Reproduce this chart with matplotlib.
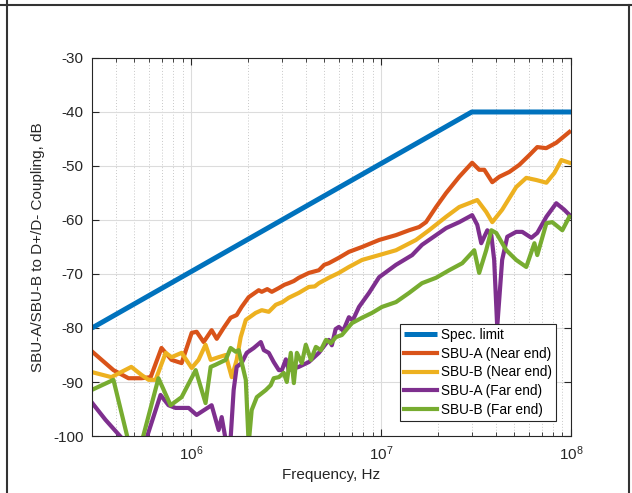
import numpy as np
import matplotlib
matplotlib.use('Agg')
import matplotlib.pyplot as plt
from matplotlib.lines import Line2D

plt.rcParams['font.family'] = ['Liberation Sans', 'DejaVu Sans']
plt.rcParams['axes.unicode_minus'] = False
plt.rcParams['mathtext.fontset'] = 'custom'
plt.rcParams['mathtext.rm'] = 'Liberation Sans'

# spec limit (Hz, dB)
spec_f = [3e5, 3e7, 1e8]
spec_db = [-80, -40, -40]

# measured curves, frequency given as log10(Hz)
a_near_logf = [5.469, 5.590, 5.669, 5.738, 5.786, 5.843, 5.896, 5.949, 6.002, 6.028,
               6.065, 6.107, 6.134, 6.170, 6.207, 6.239, 6.265, 6.302, 6.355, 6.371,
               6.400, 6.424, 6.461, 6.490, 6.513, 6.540, 6.566, 6.619, 6.672, 6.700,
               6.724, 6.777, 6.830, 6.899, 6.989, 7.078, 7.147, 7.200, 7.236, 7.289,
               7.342, 7.411, 7.479, 7.516, 7.543, 7.585, 7.622, 7.675, 7.727, 7.780,
               7.822, 7.869, 7.922, 7.991]
a_near_db = [-84.1, -87.8, -89.3, -89.3, -89.1, -83.7, -85.9, -86.5, -80.9, -80.7,
             -82.6, -80.4, -82.0, -80.0, -78.1, -77.6, -76.1, -74.3, -73.0, -73.3,
             -72.8, -73.3, -72.6, -72.0, -71.7, -71.3, -70.7, -69.8, -69.3, -68.3,
             -68.0, -67.0, -65.9, -65.0, -63.7, -62.8, -61.9, -61.3, -60.4, -57.6,
             -55.0, -52.0, -49.4, -50.7, -50.7, -53.0, -52.0, -51.1, -49.8, -48.0,
             -46.5, -46.7, -45.7, -43.7]

b_near_logf = [5.469, 5.579, 5.684, 5.738, 5.775, 5.812, 5.865, 5.896, 5.949, 6.002,
               6.038, 6.075, 6.102, 6.144, 6.181, 6.213, 6.239, 6.260, 6.287, 6.339,
               6.371, 6.408, 6.445, 6.480, 6.513, 6.566, 6.619, 6.650, 6.672, 6.724,
               6.777, 6.830, 6.899, 6.989, 7.078, 7.183, 7.252, 7.342, 7.411, 7.506,
               7.553, 7.585, 7.637, 7.711, 7.764, 7.817, 7.870, 7.912, 7.949, 7.991]
b_near_db = [-88.1, -89.1, -87.2, -88.7, -89.6, -89.6, -84.6, -85.4, -84.6, -87.4,
             -85.9, -83.1, -85.9, -85.4, -85.0, -89.1, -85.9, -81.7, -78.5, -77.2,
             -76.7, -77.0, -75.7, -75.2, -74.4, -73.5, -72.4, -72.3, -71.7, -70.7,
             -69.8, -68.7, -67.4, -66.5, -65.6, -63.7, -61.9, -59.4, -57.6, -56.3,
             -58.5, -60.4, -58.1, -53.9, -52.2, -52.6, -53.1, -51.3, -48.9, -49.4]

a_far_logf = [5.474, 5.548, 5.632, 5.722, 5.838, 5.880, 5.917, 5.986, 6.028, 6.107,
              6.144, 6.160, 6.180, 6.207, 6.223, 6.239, 6.265, 6.292, 6.329, 6.366,
              6.382, 6.408, 6.434, 6.461, 6.477, 6.498, 6.513, 6.566, 6.619, 6.672,
              6.724, 6.740, 6.760, 6.777, 6.800, 6.830, 6.850, 6.883, 6.936, 6.989,
              7.078, 7.163, 7.215, 7.289, 7.342, 7.411, 7.479, 7.506, 7.527, 7.559,
              7.580, 7.595, 7.611, 7.637, 7.664, 7.711, 7.743, 7.791, 7.822, 7.870,
              7.922, 7.964, 8.001]
a_far_db = [-93.7, -97.0, -100.3, -105.0, -92.4, -94.3, -94.8, -94.8, -96.1, -94.3,
            -98.9, -96.5, -100.5, -100.5, -91.5, -87.2, -86.5, -84.6, -83.7, -82.6,
            -84.1, -84.6, -86.3, -87.8, -87.8, -85.8, -87.8, -87.2, -86.3, -84.6,
            -82.2, -83.2, -80.2, -79.8, -80.5, -78.0, -78.6, -76.1, -73.5, -70.6,
            -68.3, -66.5, -64.6, -62.8, -61.5, -60.4, -59.1, -60.9, -64.3, -61.9,
            -62.8, -67.4, -79.8, -67.4, -63.1, -62.2, -62.2, -63.3, -62.4, -59.4,
            -56.9, -58.1, -59.4]

b_far_logf = [5.474, 5.590, 5.669, 5.732, 5.827, 5.891, 5.949, 6.023, 6.075, 6.102,
              6.128, 6.181, 6.207, 6.234, 6.250, 6.287, 6.302, 6.318, 6.345, 6.392,
              6.418, 6.434, 6.461, 6.487, 6.503, 6.524, 6.540, 6.556, 6.582, 6.603,
              6.630, 6.656, 6.682, 6.709, 6.735, 6.761, 6.793, 6.846, 6.899, 6.952,
              7.004, 7.078, 7.147, 7.215, 7.289, 7.358, 7.427, 7.490, 7.516, 7.553,
              7.580, 7.606, 7.659, 7.711, 7.764, 7.807, 7.822, 7.870, 7.901, 7.954,
              7.991]
b_far_db = [-91.5, -89.6, -101.0, -102.0, -89.3, -94.3, -92.8, -87.8, -93.9, -87.2,
            -86.8, -85.9, -83.7, -84.4, -84.1, -89.6, -101.5, -95.2, -92.8, -91.5,
            -90.6, -89.3, -89.1, -88.3, -90.0, -84.6, -90.2, -84.6, -86.5, -83.1,
            -85.9, -83.5, -84.1, -82.2, -82.8, -81.7, -81.3, -79.1, -78.1, -77.2,
            -76.1, -75.2, -73.5, -71.7, -70.7, -69.3, -68.0, -65.6, -69.8, -65.6,
            -61.9, -62.4, -65.6, -67.4, -68.7, -64.3, -66.5, -60.6, -60.4, -61.9,
            -59.4]

labels = ['Spec. limit', 'SBU-A (Near end)', 'SBU-B (Near end)',
          'SBU-A (Far end)', 'SBU-B (Far end)']
colors = ['#0072BD', '#D95319', '#EDB120', '#7E2F8E', '#77AC30']

fig = plt.figure(figsize=(6.32, 4.93), dpi=100)
ax = fig.add_axes([0.1456, 0.1156, 0.758, 0.7668])

ax.plot(spec_f, spec_db, color=colors[0], lw=3.6, label=labels[0], solid_capstyle='butt')
ax.plot(10 ** np.array(a_near_logf), a_near_db, color=colors[1], lw=3.0, label=labels[1])
ax.plot(10 ** np.array(b_near_logf), b_near_db, color=colors[2], lw=3.0, label=labels[2])
ax.plot(10 ** np.array(a_far_logf), a_far_db, color=colors[3], lw=3.0, label=labels[3])
ax.plot(10 ** np.array(b_far_logf), b_far_db, color=colors[4], lw=3.0, label=labels[4])

ax.set_xscale('log')
ax.set_xlim(3e5, 1e8)
ax.set_ylim(-100, -30)
ax.set_yticks(np.arange(-100, -29, 10))

ax.grid(True, which='major', color='#dcdcdc', lw=0.8, ls='-')
ax.grid(True, which='minor', axis='x', color='#c8c8c8', lw=0.7, ls=(0, (1, 2)))
ax.set_axisbelow(True)

ax.tick_params(which='both', direction='in', top=True, right=True,
               colors='#262626', labelsize=11, labelcolor='#262626')
ax.tick_params(which='major', length=5, pad=6)
ax.tick_params(which='minor', length=3)
for s in ax.spines.values():
    s.set_color('#262626')
    s.set_linewidth(0.8)

ax.set_xlabel('Frequency, Hz', fontsize=11, color='#262626')
ax.set_ylabel('SBU-A/SBU-B to D+/D- Coupling, dB', fontsize=11, color='#262626', labelpad=6)

leg = ax.legend(loc='lower right', bbox_to_anchor=(0.969, 0.04), borderaxespad=0,
                fontsize=9.8, handlelength=2.4, handletextpad=0.3, labelspacing=0.34,
                borderpad=0.32, fancybox=False, framealpha=1, edgecolor='#262626')
leg.get_frame().set_linewidth(0.8)

# page frame lines
fig.add_artist(Line2D([0, 1], [1 - 5 / 493, 1 - 5 / 493], color='#333333', lw=1.5))
fig.add_artist(Line2D([7 / 632, 7 / 632], [0, 1], color='#333333', lw=1.5))
fig.add_artist(Line2D([629 / 632, 629 / 632], [0, 1 - 5 / 493], color='#333333', lw=1.5))

fig.savefig('out.png', dpi=100)
